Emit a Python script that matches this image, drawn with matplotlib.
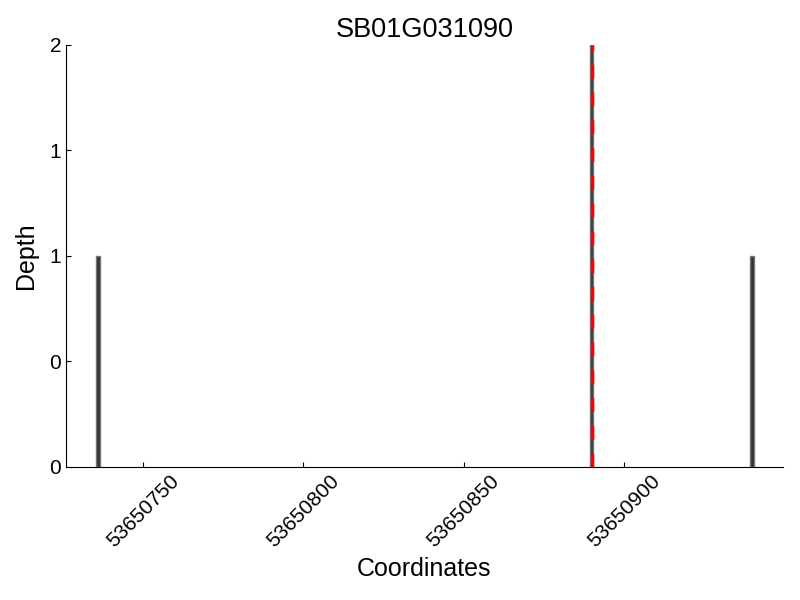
import matplotlib
matplotlib.use("Agg")
import matplotlib.pyplot as plt
from matplotlib.ticker import FormatStrFormatter

plt.rcParams['font.family'] = ['Liberation Sans', 'DejaVu Sans']

gene = "SB01G031090"
positions = [53650736, 53650890, 53650940]
depths = [1, 2, 1]
marker_pos = 53650890
xticks = [53650750, 53650800, 53650850, 53650900]

fig = plt.figure(figsize=(8, 6), dpi=100)
ax = fig.add_axes([0.0825, 0.2217, 0.896, 0.7033])

ax.bar(positions, depths, width=1, color='#333333', edgecolor='#777777', linewidth=1)
ax.axvline(marker_pos, color='red', linestyle='--', linewidth=2.5, dashes=(4, 4))

ax.set_xlim(53650726, 53650949.6)
ax.set_ylim(0, 2)
ax.set_yticks([0, 0.5, 1, 1.5, 2])
ax.yaxis.set_major_formatter(FormatStrFormatter('%d'))
ax.set_xticks(xticks)
ax.set_xticklabels([str(x) for x in xticks], rotation=45)
ax.tick_params(direction='in', labelsize=15)

ax.spines['top'].set_visible(False)
ax.spines['right'].set_visible(False)

ax.set_title(gene, fontsize=19.5)
ax.set_xlabel("Coordinates", fontsize=18)
ax.set_ylabel("Depth", fontsize=18, labelpad=8)

fig.savefig("out.png", dpi=100)
